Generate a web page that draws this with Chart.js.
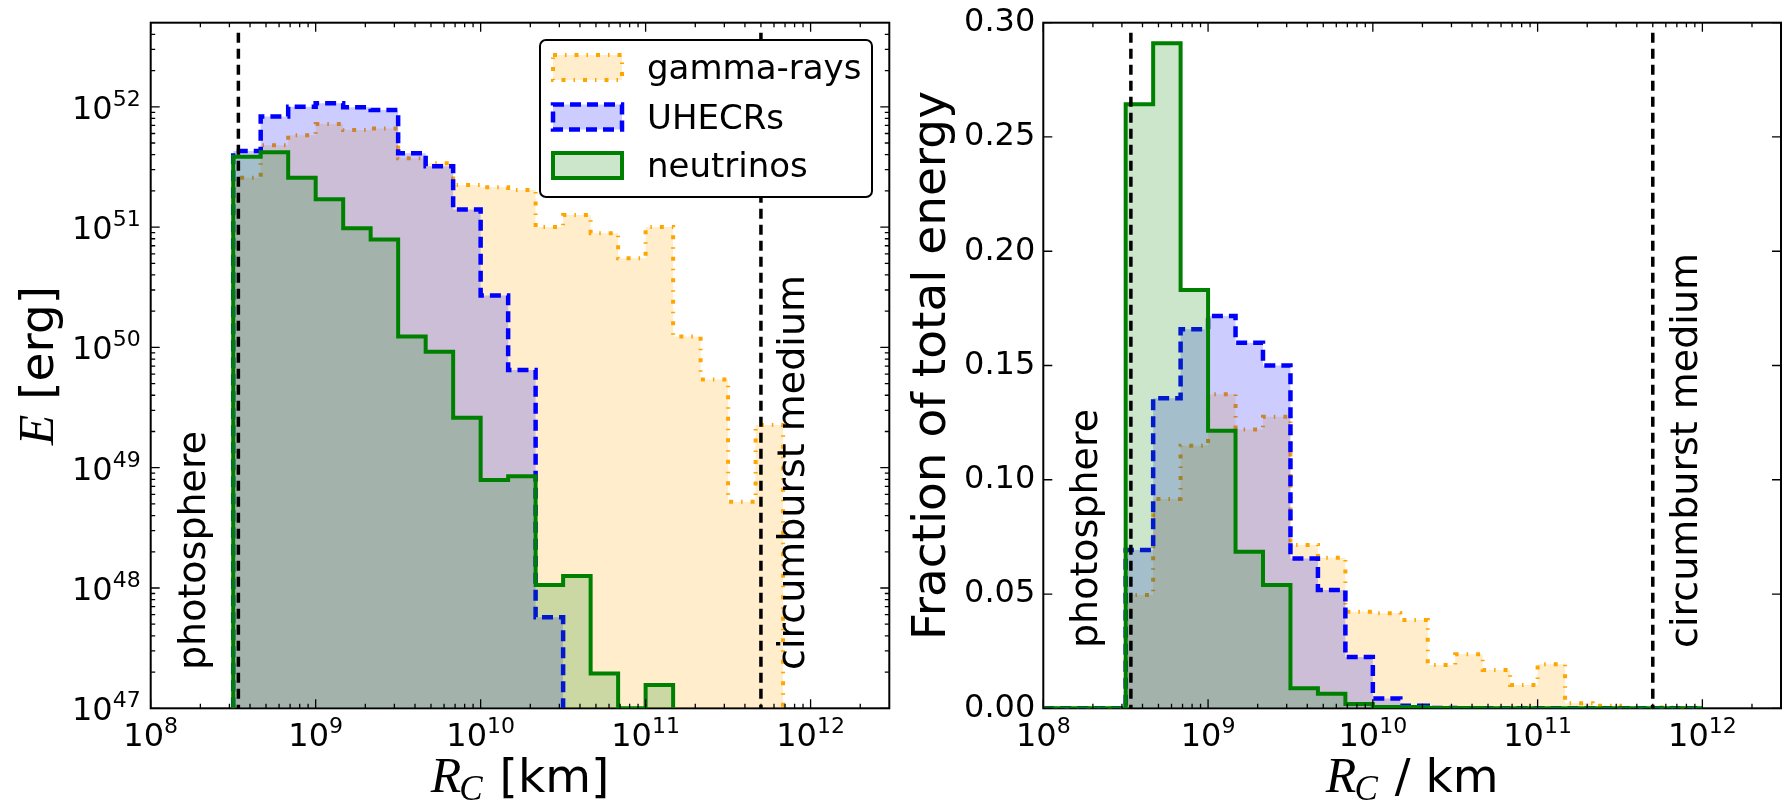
<!DOCTYPE html>
<html>
<head>
<meta charset="utf-8">
<title>Energy released vs collision radius</title>
<script src="https://cdn.jsdelivr.net/npm/chart.js@4.4.1/dist/chart.umd.min.js"></script>
<style>
  html, body { margin: 0; padding: 0; background: #fff; }
  #wrap { position: relative; width: 1785px; height: 801px; }
  canvas { position: absolute; top: 0; }
  #left { left: 0; }
  #right { left: 900px; }
</style>
</head>
<body>
<div id="wrap">
  <canvas id="left" width="900" height="801"></canvas>
  <canvas id="right" width="885" height="801"></canvas>
</div>
<script>
// bin edges [km], 6 bins per decade
const binEdges = [
  1.000e8, 1.468e8, 2.154e8, 3.162e8, 4.642e8, 6.813e8,
  1.000e9, 1.468e9, 2.154e9, 3.162e9, 4.642e9, 6.813e9,
  1.000e10, 1.468e10, 2.154e10, 3.162e10, 4.642e10, 6.813e10,
  1.000e11, 1.468e11, 2.154e11, 3.162e11, 4.642e11, 6.813e11,
  1.000e12
];
const seriesNames = ['gamma-rays', 'UHECRs', 'neutrinos'];

// left panel: energy per bin [erg]
const gammaE = [0, 0, 0, 2.57e51, 4.8e51, 5.8e51, 7.2e51, 6.4e51, 6.6e51, 3.73e51, 3.39e51, 2.24e51,
                2.14e51, 2.03e51, 1.0e51, 1.26e51, 8.9e50, 5.5e50, 1.0e51, 1.23e50, 5.4e49, 5.2e48, 2.26e49, 0];
const uhecrE = [0, 0, 0, 4.3e51, 8.3e51, 1.0e52, 1.07e52, 9.9e51, 9.4e51, 4.1e51, 3.2e51, 1.4e51,
                2.7e50, 6.5e49, 5.7e47, 0, 0, 0, 0, 0, 0, 0, 0, 0];
const nuE = [0, 0, 0, 3.85e51, 4.19e51, 2.57e51, 1.70e51, 9.8e50, 7.9e50, 1.23e50, 9.2e49, 2.6e49,
             7.9e48, 8.5e48, 1.06e48, 1.26e48, 1.95e47, 0, 1.56e47, 0, 0, 0, 0, 0];

// right panel: fraction of total energy per bin
const gammaFrac = [0, 0, 0, 0.0496, 0.0916, 0.1149, 0.1374, 0.1220, 0.1276, 0.0715, 0.0659, 0.0423,
                   0.0416, 0.0386, 0.0190, 0.0236, 0.0168, 0.0102, 0.0193, 0.0022, 0.0011, 0.0001, 0.0004, 0];
const uhecrFrac = [0, 0, 0, 0.0693, 0.1357, 0.1659, 0.1717, 0.1600, 0.1500, 0.0656, 0.0518, 0.0224,
                   0.0043, 0.0011, 0.0001, 0, 0, 0, 0, 0, 0, 0, 0, 0];
const nuFrac = [0, 0, 0, 0.2643, 0.2910, 0.1830, 0.1214, 0.0685, 0.0540, 0.0088, 0.0064, 0.0019,
                0.0006, 0.0006, 0.0001, 0.0001, 0, 0, 0, 0, 0, 0, 0, 0];

// reference radii [km]
const photosphereR = 3.4e8;
const circumburstR = 5.0e11;

// axis ranges and ticks
const xRange = [1e8, 3e12];
const leftYRange = [1e47, 5e52];
const rightYRange = [0, 0.30];
const xTickExps = [8, 9, 10, 11, 12];
const leftYTickExps = [47, 48, 49, 50, 51, 52];
const rightYTicks = [0.00, 0.05, 0.10, 0.15, 0.20, 0.25, 0.30];

const SANS = '"DejaVu Sans", sans-serif';
const SERIF_IT = '"Liberation Serif", "DejaVu Serif", serif';

const seriesStyle = [
    { color: '#FFA500', fill: 'rgba(255, 165, 0, 0.2)', dash: [4, 8, 1.5, 8], width: 4, order: 3 },
    { color: '#0000FF', fill: 'rgba(0, 0, 255, 0.2)', dash: [11, 6], width: 4.5, order: 2 },
    { color: '#008000', fill: 'rgba(0, 128, 0, 0.2)', dash: [], width: 4, order: 1 }
];

// outline of a step histogram; base = value used for the floor
function stepPoints(values, base, trimZeros) {
    let first = 0, last = values.length - 1;
    if (trimZeros) {
        while (first < last && values[first] === 0) first++;
        while (last > first && values[last] === 0) last--;
    }
    const pts = [{ x: binEdges[first], y: base }];
    for (let i = first; i <= last; i++) {
        pts.push({ x: binEdges[i], y: values[i] === 0 ? base : values[i] });
    }
    pts.push({ x: binEdges[last + 1], y: base });
    return pts;
}

function makeDatasets(seriesList, base, trimZeros) {
    return seriesList.map((vals, i) => ({
        label: seriesNames[i],
        data: stepPoints(vals, base, trimZeros),
        stepped: 'before',
        borderColor: seriesStyle[i].color,
        backgroundColor: seriesStyle[i].fill,
        borderWidth: seriesStyle[i].width,
        borderDash: seriesStyle[i].dash,
        fill: 'start',
        order: seriesStyle[i].order,
        pointRadius: 0
    }));
}

function drawPow(ctx, exp, x, baseline, align) {
    ctx.font = '32px ' + SANS;
    const wb = ctx.measureText('10').width;
    ctx.font = '22px ' + SANS;
    const we = ctx.measureText(String(exp)).width;
    const x0 = align === 'center' ? x - (wb + we) / 2 : x - wb - we;
    ctx.textAlign = 'left';
    ctx.textBaseline = 'alphabetic';
    ctx.font = '32px ' + SANS;
    ctx.fillText('10', x0, baseline);
    ctx.font = '22px ' + SANS;
    ctx.fillText(String(exp), x0 + wb, baseline - 13);
}

// vertical text reading bottom to top, starting at (x, y); x is the baseline
function vText(ctx, text, x, y, font, align) {
    ctx.save();
    ctx.translate(x, y);
    ctx.rotate(-Math.PI / 2);
    ctx.font = font;
    ctx.textAlign = align || 'left';
    ctx.textBaseline = 'alphabetic';
    ctx.fillText(text, 0, 0);
    ctx.restore();
}

function drawRcLabel(ctx, rest, cx, baseline) {
    const fR = 'italic 50px ' + SERIF_IT, fC = 'italic 35px ' + SERIF_IT, fT = '47px ' + SANS;
    ctx.font = fR; const wR = ctx.measureText('R').width;
    ctx.font = fC; const wC = ctx.measureText('C').width;
    ctx.font = fT; const wT = ctx.measureText(rest).width;
    let x0 = cx - (wR + wC + wT) / 2;
    ctx.textAlign = 'left';
    ctx.textBaseline = 'alphabetic';
    ctx.font = fR; ctx.fillText('R', x0, baseline);
    ctx.font = fC; ctx.fillText('C', x0 + wR - 2, baseline + 8);
    ctx.font = fT; ctx.fillText(rest, x0 + wR + wC, baseline);
}

function minorTicks(exps, maxVal) {
    const out = [];
    exps.forEach(e => {
        for (let m = 2; m <= 9; m++) {
            const v = m * Math.pow(10, e);
            if (v < maxVal) out.push(v);
        }
    });
    return out;
}

function panelPlugin(cfg) {
    return {
        id: 'panel_' + cfg.name,
        beforeDatasetsDraw(chart) {
            const { ctx, chartArea: a } = chart;
            ctx.save();
            ctx.strokeStyle = '#000';
            ctx.lineWidth = 2;
            ctx.strokeRect(a.left, a.top, a.right - a.left, a.bottom - a.top);
            ctx.restore();
        },
        afterDatasetsDraw(chart) {
            const { ctx, chartArea: a, scales } = chart;
            const xs = scales.x, ys = scales.y;
            ctx.save();
            ctx.fillStyle = '#000';
            ctx.strokeStyle = '#000';

            // photosphere / circumburst markers
            ctx.lineWidth = 3.5;
            ctx.setLineDash([10, 6]);
            [photosphereR, circumburstR].forEach(r => {
                const px = xs.getPixelForValue(r);
                ctx.beginPath();
                ctx.moveTo(px, a.top + 10);
                ctx.lineTo(px, a.bottom);
                ctx.stroke();
            });
            ctx.setLineDash([]);

            vText(ctx, 'photosphere', xs.getPixelForValue(photosphereR) + cfg.photoDx, cfg.textY, '38px ' + SANS);
            vText(ctx, 'circumburst medium', xs.getPixelForValue(circumburstR) + cfg.circDx, cfg.textY, '38px ' + SANS);

            // ticks, all pointing inward
            ctx.lineWidth = 1.3;
            const vtick = (px, len) => {
                ctx.beginPath();
                ctx.moveTo(px, a.bottom); ctx.lineTo(px, a.bottom - len);
                ctx.moveTo(px, a.top); ctx.lineTo(px, a.top + len);
                ctx.stroke();
            };
            const htick = (py, len) => {
                ctx.beginPath();
                ctx.moveTo(a.left, py); ctx.lineTo(a.left + len, py);
                ctx.moveTo(a.right, py); ctx.lineTo(a.right - len, py);
                ctx.stroke();
            };
            xTickExps.forEach(e => vtick(xs.getPixelForValue(Math.pow(10, e)), 9));
            minorTicks(xTickExps, xRange[1]).forEach(v => vtick(xs.getPixelForValue(v), 4.5));
            if (cfg.logY) {
                leftYTickExps.forEach(e => htick(ys.getPixelForValue(Math.pow(10, e)), 9));
                minorTicks(leftYTickExps, leftYRange[1]).forEach(v => htick(ys.getPixelForValue(v), 4.5));
            } else {
                rightYTicks.forEach(v => htick(ys.getPixelForValue(v), 9));
            }

            // tick labels
            xTickExps.forEach(e => drawPow(ctx, e, xs.getPixelForValue(Math.pow(10, e)), 746, 'center'));
            if (cfg.logY) {
                leftYTickExps.forEach(e => drawPow(ctx, e, a.left - 10, ys.getPixelForValue(Math.pow(10, e)) + 12, 'right'));
            } else {
                ctx.font = '32px ' + SANS;
                ctx.textAlign = 'right';
                ctx.textBaseline = 'middle';
                rightYTicks.forEach(v => ctx.fillText(v.toFixed(2), a.left - 8, ys.getPixelForValue(v)));
            }

            // axis titles
            const cx = (a.left + a.right) / 2, cy = (a.top + a.bottom) / 2;
            drawRcLabel(ctx, cfg.xRest, cx, 792);
            if (cfg.logY) {
                ctx.save();
                ctx.translate(a.left - 98, cy);
                ctx.rotate(-Math.PI / 2);
                const fE = 'italic 50px ' + SERIF_IT, fT = '47px ' + SANS;
                ctx.font = fE; const wE = ctx.measureText('E').width;
                ctx.font = fT; const wT = ctx.measureText(' [erg]').width;
                const x0 = -(wE + wT) / 2;
                ctx.textAlign = 'left';
                ctx.textBaseline = 'alphabetic';
                ctx.font = fE; ctx.fillText('E', x0, 0);
                ctx.font = fT; ctx.fillText(' [erg]', x0 + wE, 0);
                ctx.restore();
            } else {
                vText(ctx, 'Fraction of total energy', a.left - 98, cy, '47px ' + SANS, 'center');
            }

            // legend
            if (cfg.legend) {
                const L = { x: 540, y: 40, w: 332, h: 157 };
                ctx.beginPath();
                ctx.roundRect(L.x, L.y, L.w, L.h, 6);
                ctx.fillStyle = '#fff';
                ctx.fill();
                ctx.lineWidth = 2;
                ctx.strokeStyle = '#000';
                ctx.stroke();
                const rowTop = [55, 104.5, 153];
                const rowBase = [78.5, 128.5, 177];
                seriesNames.forEach((name, i) => {
                    const s = seriesStyle[i];
                    ctx.fillStyle = s.fill;
                    ctx.fillRect(553, rowTop[i], 69, 25);
                    ctx.strokeStyle = s.color;
                    ctx.lineWidth = s.width;
                    ctx.setLineDash(s.dash);
                    ctx.strokeRect(553, rowTop[i], 69, 25);
                    ctx.setLineDash([]);
                    ctx.fillStyle = '#000';
                    ctx.font = '34px ' + SANS;
                    ctx.textAlign = 'left';
                    ctx.textBaseline = 'alphabetic';
                    ctx.fillText(name, 647, rowBase[i]);
                });
            }
            ctx.restore();
        }
    };
}

function makeChart(id, datasets, yScale, padding, plugin) {
    return new Chart(document.getElementById(id), {
        type: 'line',
        data: { datasets: datasets },
        options: {
            responsive: false,
            animation: false,
            devicePixelRatio: 1,
            layout: { padding: padding },
            plugins: {
                legend: { display: false },
                tooltip: { enabled: false }
            },
            scales: {
                x: { type: 'logarithmic', min: xRange[0], max: xRange[1], display: false },
                y: yScale
            }
        },
        plugins: [plugin]
    });
}

// Energy chart (log y)
const leftChart = makeChart('left',
    makeDatasets([gammaE, uhecrE, nuE], leftYRange[0], true),
    { type: 'logarithmic', min: leftYRange[0], max: leftYRange[1], display: false },
    { left: 150.7, right: 10.7, top: 22.7, bottom: 92.7 },
    panelPlugin({ name: 'left', logY: true, legend: true, xRest: ' [km]', photoDx: -33, circDx: 43, textY: 670 })
);

// Fraction chart (linear y)
const rightChart = makeChart('right',
    makeDatasets([gammaFrac, uhecrFrac, nuFrac], 0, false),
    { type: 'linear', min: rightYRange[0], max: rightYRange[1], display: false },
    { left: 143.3, right: 4, top: 22.7, bottom: 92.7 },
    panelPlugin({ name: 'right', logY: false, legend: false, xRest: ' / km', photoDx: -34, circDx: 44, textY: 648 })
);
</script>
</body>
</html>
